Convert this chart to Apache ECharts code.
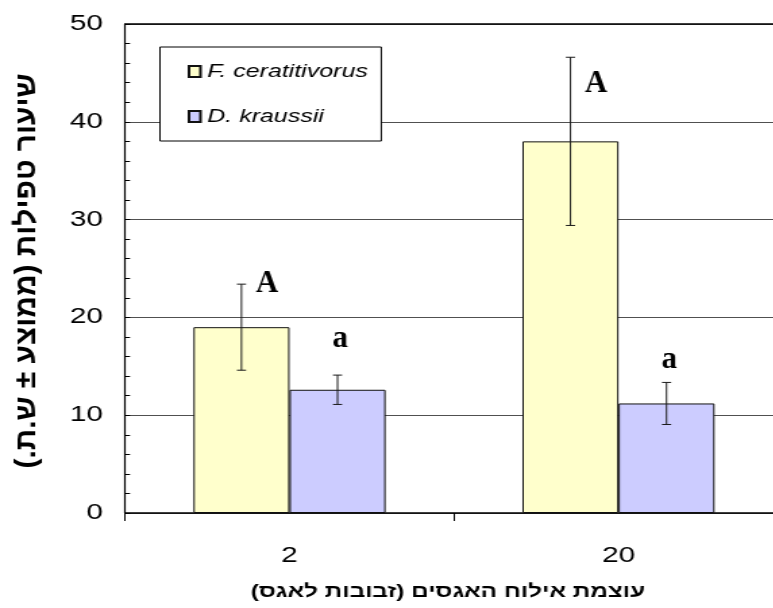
<!DOCTYPE html>
<html>
<head>
<meta charset="utf-8">
<title>שיעור טפילות</title>
<script src="https://cdn.jsdelivr.net/npm/echarts@6/dist/echarts.min.js"></script>
<style>
  html, body { margin: 0; padding: 0; background: #fff; overflow: hidden; }
  #stage { width: 773px; height: 608px; overflow: hidden; position: relative; }
  /* The figure uses horizontally widened lettering; the chart is drawn
     narrower and widened as a whole. */
  #chart { width: 600px; height: 608px; transform: scaleX(1.35); transform-origin: 0 0; }
</style>
</head>
<body>
<div id="stage"><div id="chart"></div></div>
<script>
// ---- data -------------------------------------------------------------
const categories = ['2', '20'];                       // flies per pear
const seriesNames = ['F. ceratitivorus', 'D. kraussii'];
const fcMean = [19.0, 38.0];                          // parasitism, mean
const fcSE = [4.4, 8.6];                              // standard error
const dkMean = [12.6, 11.2];
const dkSE = [1.5, 2.15];
const fcLetters = ['A', 'A'];                         // significance groups
const dkLetters = ['a', 'a'];
const fcLetterLevel = [23.4, 43.9];                   // value level of each letter
const dkLetterLevel = [17.8, 15.6];
const yMin = 0, yMax = 50, yStep = 10;
const xTitle = 'עוצמת אילוח האגסים (זבובות לאגס)';
const yTitle = 'שיעור טפילות (ממוצע ± ש.ת.)';

// ---- styling ------------------------------------------------------------
const STRETCH = 1.35;
const SANS = '"Liberation Sans", Arial, sans-serif';
const SERIF = '"Liberation Serif", "Times New Roman", serif';
const BAR_FRAC = 0.292;
const CAP = 3.4;
const RLM = '\u200F';
const colors = ['#FFFFCC', '#CCCCFF'];

const Y_TITLE_FONT = 'bold 22px ' + SANS;
const Y_TITLE_LEN = 395;
const measureCtx = document.createElement('canvas').getContext('2d');
measureCtx.font = Y_TITLE_FONT;
const yTitleScale = Y_TITLE_LEN / measureCtx.measureText(yTitle).width;

const chart = echarts.init(document.getElementById('chart'), null, { renderer: 'canvas' });

function barSeries(idx, values) {
  return {
    type: 'bar',
    name: seriesNames[idx],
    xAxisIndex: 0,
    data: values,
    barWidth: (BAR_FRAC * 100) + '%',
    barGap: '0%',
    itemStyle: { color: colors[idx], borderColor: '#111', borderWidth: 1 },
    emphasis: { disabled: true },
    z: 2
  };
}

function errorSeries(idx, means, ses, letters, levels, letterDx) {
  return {
    type: 'custom',
    name: seriesNames[idx] + ' ±',
    xAxisIndex: 0,
    z: 5,
    silent: true,
    data: means.map((m, i) => [i, m, ses[i], levels[i]]),
    renderItem(params, api) {
      const i = api.value(0);
      const band = api.size([1, 0])[0];
      const barW = band * BAR_FRAC;
      const cx = api.coord([i, 0])[0] + (idx === 0 ? -barW / 2 : barW / 2);
      const mean = api.value(1), se = api.value(2);
      const yTop = api.coord([i, mean + se])[1];
      const yBot = api.coord([i, mean - se])[1];
      const yLet = api.coord([i, api.value(3)])[1];
      const st = { stroke: '#1a1a1a', lineWidth: 1 };
      return {
        type: 'group',
        children: [
          { type: 'line', shape: { x1: cx, y1: yTop, x2: cx, y2: yBot }, style: st },
          { type: 'line', shape: { x1: cx - CAP, y1: yTop, x2: cx + CAP, y2: yTop }, style: st },
          { type: 'line', shape: { x1: cx - CAP, y1: yBot, x2: cx + CAP, y2: yBot }, style: st },
          {
            type: 'text', x: cx + letterDx, y: yLet, scaleX: 1 / STRETCH,
            style: {
              text: letters[params.dataIndex], font: 'bold 31px ' + SERIF,
              fill: '#000', align: 'center', verticalAlign: 'middle'
            }
          }
        ]
      };
    }
  };
}

chart.setOption({
  animation: false,
  backgroundColor: '#fff',
  textStyle: { fontFamily: SANS, color: '#000' },
  grid: { left: 92.6, right: 20, top: 24, bottom: 95, containLabel: false, outerBoundsMode: 'none' },
  legend: {
    data: seriesNames,
    orient: 'vertical',
    left: 118.5,
    top: 47,
    backgroundColor: '#fff',
    borderColor: '#000',
    borderWidth: 1,
    borderRadius: 0,
    padding: [15, 10, 15, 20.5],
    itemGap: 26,
    itemWidth: 8.5,
    itemHeight: 11,
    icon: 'rect',
    selectedMode: false,
    textStyle: { fontFamily: SANS, fontStyle: 'italic', fontSize: 18.5, color: '#000' }
  },
  xAxis: [
    {
      type: 'category',
      data: categories,
      position: 'bottom',
      boundaryGap: true,
      axisLine: { show: true, lineStyle: { color: '#000', width: 1.5 } },
      axisTick: { show: true, length: 8, alignWithLabel: false, lineStyle: { color: '#000', width: 1 } },
      axisLabel: { fontSize: 22, color: '#000', margin: 32, fontFamily: SANS },
      splitLine: { show: false },
      name: xTitle + RLM,
      nameLocation: 'middle',
      nameGap: 70,
      nameTextStyle: { fontFamily: SANS, fontWeight: 'bold', fontSize: 18, color: '#000', padding: [0, 9, 0, 0] }
    },
    {
      type: 'category',
      data: categories,
      position: 'top',
      axisLine: { show: true, lineStyle: { color: '#000', width: 1.5 } },
      axisTick: { show: false },
      axisLabel: { show: false },
      splitLine: { show: false }
    }
  ],
  yAxis: {
    type: 'value',
    min: yMin,
    max: yMax,
    interval: yStep,
    axisLine: { show: true, lineStyle: { color: '#000', width: 1.2 } },
    axisTick: { show: true, inside: true, length: 3.7, lineStyle: { color: '#000' } },
    minorTick: { show: true, splitNumber: 5, length: 3.7, lineStyle: { color: '#000' } },
    axisLabel: { fontSize: 22, color: '#000', margin: 16.3, fontFamily: SANS },
    splitLine: { show: true, lineStyle: { color: '#505050', width: 1 } }
  },
  graphic: [
    {
      type: 'text',
      x: 20,
      y: 271,
      rotation: Math.PI / 2,
      scaleX: yTitleScale,
      style: {
        text: yTitle + RLM, font: Y_TITLE_FONT, fill: '#000',
        align: 'center', verticalAlign: 'middle'
      }
    }
  ],
  series: [
    barSeries(0, fcMean),
    barSeries(1, dkMean),
    errorSeries(0, fcMean, fcSE, fcLetters, fcLetterLevel, 19),
    errorSeries(1, dkMean, dkSE, dkLetters, dkLetterLevel, 2)
  ]
});
</script>
</body>
</html>
